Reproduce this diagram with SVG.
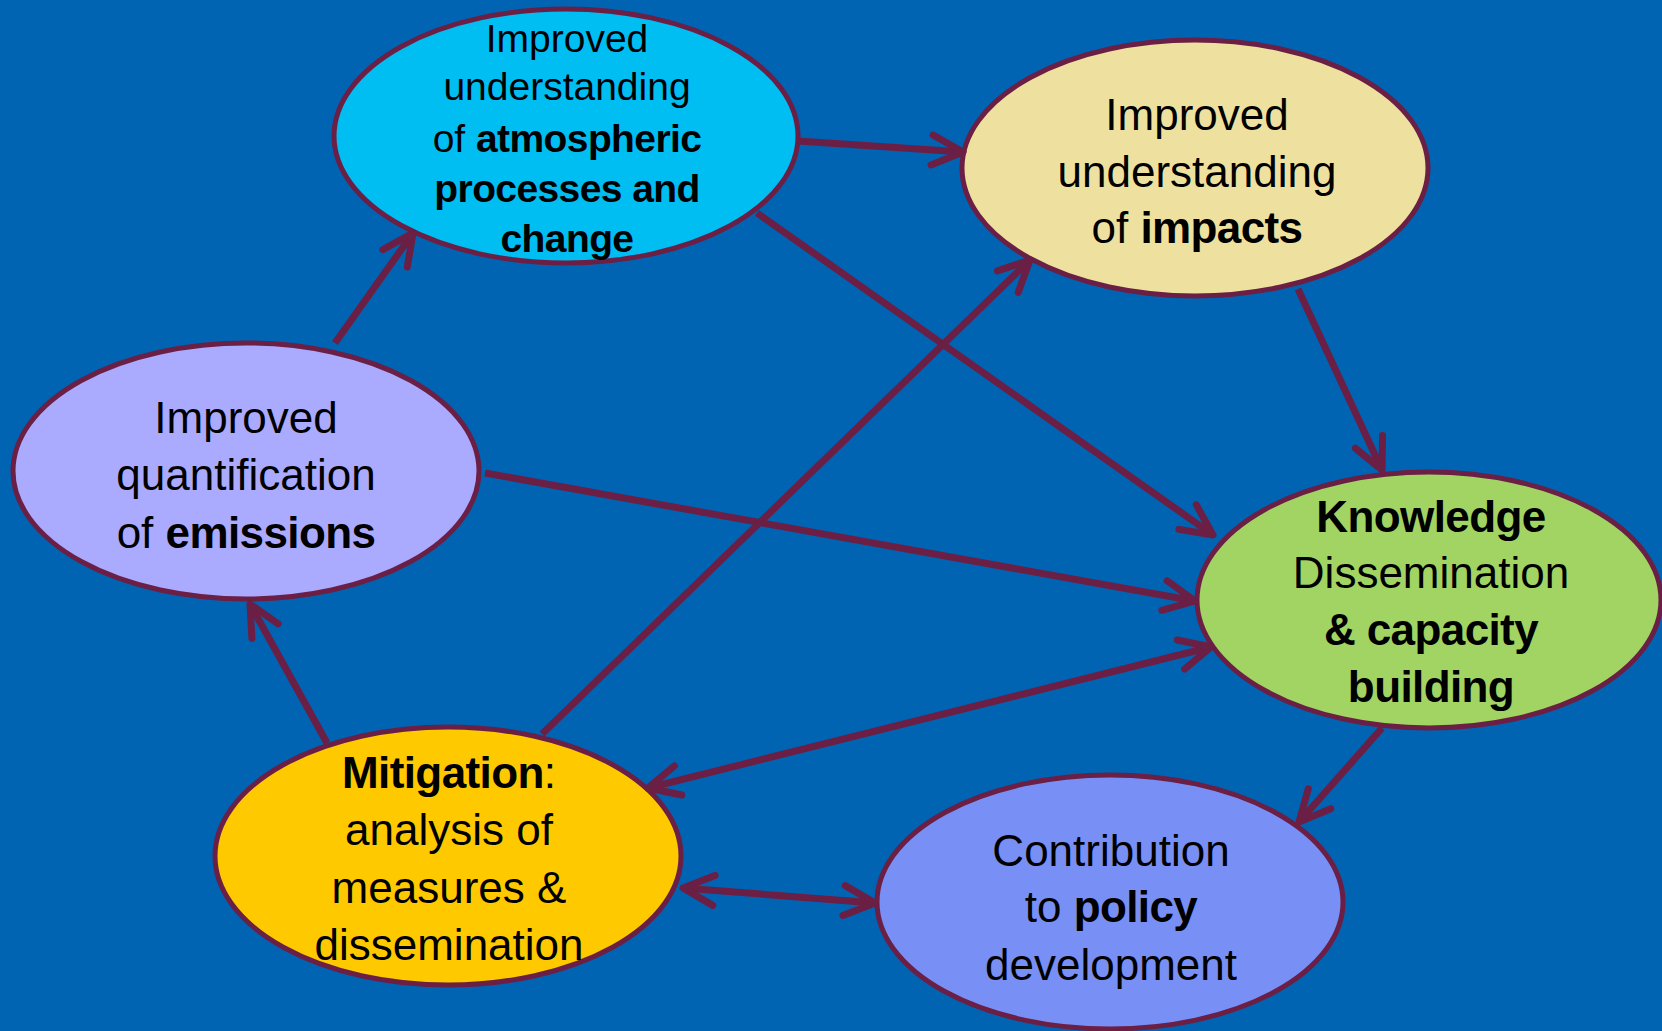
<svg xmlns="http://www.w3.org/2000/svg" width="1662" height="1031" viewBox="0 0 1662 1031">
<defs>
<style>
.node{stroke:#6b1f45;stroke-width:5}
.t{font-family:"Liberation Sans",Arial,sans-serif;font-size:44px;fill:#000;text-anchor:middle}
.s{font-size:39px}
.b{font-weight:bold;letter-spacing:-0.6px}
.c{fill:none;stroke:#6b1f45;stroke-width:7;stroke-linecap:butt}
</style>
<marker id="ah" markerUnits="userSpaceOnUse" markerWidth="1" markerHeight="1" refX="0" refY="0" orient="auto-start-reverse" overflow="visible">
<path d="M-31,-15 L0,0 L-31,15" fill="none" stroke="#6b1f45" stroke-width="7" stroke-linecap="round" stroke-linejoin="round"/>
</marker>
</defs>
<rect width="1662" height="1031" fill="#0064b3"/>
<g id="n-atmos">
<ellipse class="node" cx="566" cy="136" rx="232" ry="127" fill="#00bdf2"/>
<text class="t s"><tspan x="567" y="52">Improved</tspan><tspan x="567" y="100">understanding</tspan><tspan x="567" y="152">of <tspan class="b">atmospheric</tspan></tspan><tspan x="567" y="202" class="b">processes and</tspan><tspan x="567" y="252" class="b">change</tspan></text>
</g>
<g id="n-impacts">
<ellipse class="node" cx="1195" cy="168" rx="233" ry="128" fill="#eee19f"/>
<text class="t"><tspan x="1197" y="130">Improved</tspan><tspan x="1197" y="187">understanding</tspan><tspan x="1197" y="243">of <tspan class="b">impacts</tspan></tspan></text>
</g>
<g id="n-emissions">
<ellipse class="node" cx="246" cy="471" rx="233" ry="128" fill="#aaaaff"/>
<text class="t"><tspan x="246" y="433">Improved</tspan><tspan x="246" y="490">quantification</tspan><tspan x="246" y="548">of <tspan class="b">emissions</tspan></tspan></text>
</g>
<g id="n-knowledge">
<ellipse class="node" cx="1429" cy="600" rx="232" ry="128" fill="#a1d463"/>
<text class="t"><tspan x="1431" y="532" class="b">Knowledge</tspan><tspan x="1431" y="588">Dissemination</tspan><tspan x="1431" y="645" class="b">&amp; capacity</tspan><tspan x="1431" y="702" class="b">building</tspan></text>
</g>
<g id="n-mitigation">
<ellipse class="node" cx="448" cy="856" rx="233" ry="129" fill="#ffc900"/>
<text class="t"><tspan x="449" y="788"><tspan class="b">Mitigation</tspan>:</tspan><tspan x="449" y="845">analysis of</tspan><tspan x="449" y="903">measures &amp;</tspan><tspan x="449" y="960">dissemination</tspan></text>
</g>
<g id="n-policy">
<ellipse class="node" cx="1110" cy="902" rx="233" ry="127" fill="#7890f5"/>
<text class="t"><tspan x="1111" y="866">Contribution</tspan><tspan x="1111" y="922">to <tspan class="b">policy</tspan></tspan><tspan x="1111" y="980">development</tspan></text>
</g>
<g id="connectors">
<line class="c" x1="335" y1="343" x2="413" y2="233" marker-end="url(#ah)"/>
<line class="c" x1="798" y1="141" x2="963" y2="152" marker-end="url(#ah)"/>
<line class="c" x1="757" y1="213" x2="1213" y2="535" marker-end="url(#ah)"/>
<line class="c" x1="1298" y1="289" x2="1382" y2="470" marker-end="url(#ah)"/>
<line class="c" x1="485" y1="473" x2="1195" y2="601" marker-end="url(#ah)"/>
<line class="c" x1="542" y1="734" x2="1030" y2="260" marker-end="url(#ah)"/>
<line class="c" x1="648" y1="788" x2="1211" y2="647" marker-start="url(#ah)" marker-end="url(#ah)"/>
<line class="c" x1="327" y1="743" x2="250" y2="604" marker-end="url(#ah)"/>
<line class="c" x1="1382" y1="728" x2="1299" y2="822" marker-end="url(#ah)"/>
<line class="c" x1="683" y1="888" x2="875" y2="903" marker-start="url(#ah)" marker-end="url(#ah)"/>
</g>
</svg>
